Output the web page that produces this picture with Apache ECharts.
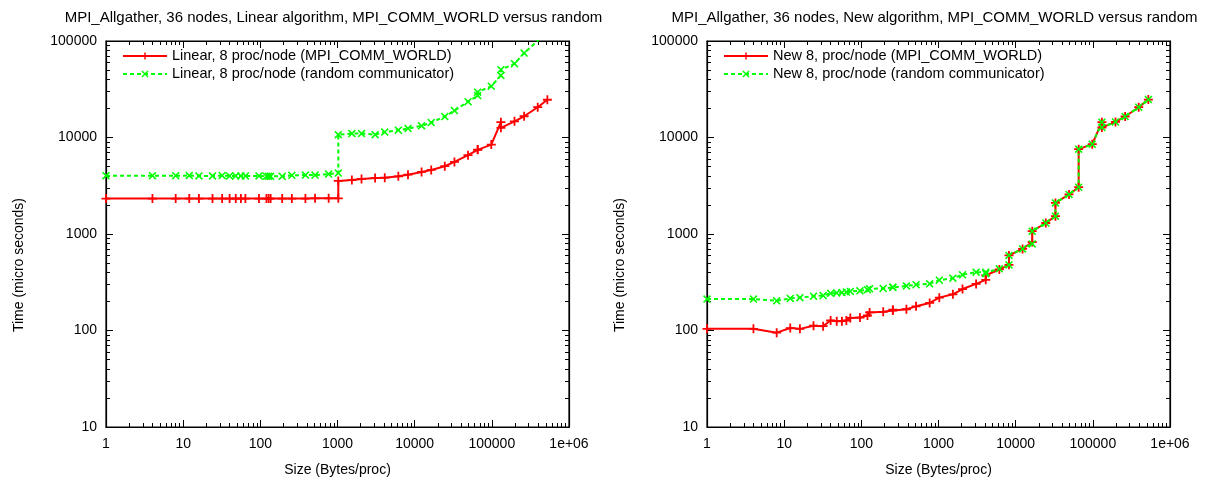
<!DOCTYPE html>
<html>
<head>
<meta charset="utf-8">
<script src="https://cdn.jsdelivr.net/npm/echarts@6/dist/echarts.min.js"></script>
<style>
  html, body { margin: 0; padding: 0; background: #fff; }
  #chart { width: 1205px; height: 480px; }
</style>
</head>
<body>
<div id="chart"></div>
<script>
// message sizes (bytes/proc), duplicates = two measurements at one size
const linSizes = [1, 4, 8, 12, 16, 24, 32, 40, 48, 56, 64, 96, 120, 128, 136, 192, 256, 384, 512, 768,
  1024, 1024, 1536, 2048, 3072, 4096, 6144, 8192, 12288, 16384, 24576, 32768, 49152, 65536, 65536,
  98304, 131072, 131072, 196608, 262144, 393216, 524288];
const linWorld = [2330, 2330, 2330, 2330, 2330, 2330, 2330, 2330, 2330, 2330, 2330, 2330, 2330, 2330, 2330, 2330, 2330, 2330, 2340, 2340,
  2340, 3550, 3620, 3720, 3800, 3830, 3960, 4120, 4400, 4610, 5040, 5580, 6560, 7450, 7500,
  8450, 14400, 12600, 14700, 16600, 20600, 24600];
const linRandom = [4020, 4020, 4020, 4030, 4000, 4000, 4030, 4000, 4000, 4000, 4000, 4000, 3960, 3960, 3960, 3960, 4060, 4080, 4080, 4180,
  4280, 10700, 11000, 11000, 10700, 11400, 11900, 12400, 13200, 14300, 16500, 19000, 23500, 27200, 29500,
  34000, 44000, 50400, 58200, 75000, 101000, 135000];

const newSizes = [1, 4, 8, 12, 16, 24, 32, 40, 48, 56, 64, 72, 96, 120, 128, 192, 256, 256, 384, 512, 768,
  1024, 1536, 2048, 3072, 4096, 4096, 6144, 8192, 8192, 12288, 16384, 16384, 24576, 32768, 32768,
  49152, 65536, 65536, 98304, 131072, 131072, 196608, 262144, 393216, 524288];
const newWorld = [104, 104, 95, 106, 104, 112, 111, 127, 125, 125, 127, 135, 136, 143, 154, 156, 161, 164, 166, 178, 193,
  219, 237, 269, 304, 335, 372, 429, 479, 600, 700, 826, 1070, 1300, 1530, 2100,
  2570, 3060, 7570, 8530, 14400, 12700, 14500, 16500, 20600, 24700];
const newRandom = [212, 212, 203, 215, 219, 227, 230, 243, 245, 247, 250, 254, 258, 265, 270, 273, 280, 281, 290, 298, 305,
  332, 348, 378, 402, 402, 388, 436, 478, 600, 700, 790, 1070, 1300, 1530, 2100,
  2570, 3060, 7570, 8530, 14400, 12700, 14500, 16500, 20600, 24700];

const titles = ['MPI_Allgather, 36 nodes, Linear algorithm, MPI_COMM_WORLD versus random',
  'MPI_Allgather, 36 nodes, New algorithm, MPI_COMM_WORLD versus random'];
const legendNames = [
  ['Linear, 8 proc/node (MPI_COMM_WORLD)', 'Linear, 8 proc/node (random communicator)'],
  ['New 8, proc/node (MPI_COMM_WORLD)', 'New 8, proc/node (random communicator)']
];

const FONT = 'Liberation Sans, Arial, sans-serif';
const PLUS = 'path://M0,4 L10,4 L10,6 L0,6 Z M4,0 L6,0 L6,10 L4,10 Z';
const CROSS = 'path://M1.4,0 L5,3.6 L8.6,0 L10,1.4 L6.4,5 L10,8.6 L8.6,10 L5,6.4 L1.4,10 L0,8.6 L3.6,5 L0,1.4 Z';

const grids = [
  { left: 106, top: 41, width: 463, height: 386 },
  { left: 707, top: 41, width: 463, height: 386 }
];

function minorVals(lo, hi) {
  const out = [];
  for (let d = lo; d < hi; d *= 10) {
    for (let k = 2; k <= 9; k++) out.push(d * k);
  }
  return out;
}

function makeAxes(gi, dir) {
  const isX = dir === 'x';
  const min = isX ? 1 : 10, max = isX ? 1e6 : 1e5;
  const pos = isX ? ['bottom', 'top'] : ['left', 'right'];
  const minors = minorVals(min, max);
  const axes = [];
  pos.forEach((p, pi) => {
    // major ticks (+ labels on the main side)
    axes.push({
      type: 'log', logBase: 10, min: min, max: max, interval: 1, gridIndex: gi, position: p,
      axisLine: { show: true, lineStyle: { color: '#000', width: 1.2 } },
      axisTick: { show: true, inside: true, length: 7, lineStyle: { color: '#000' } },
      axisLabel: {
        show: pi === 0, color: '#000', fontFamily: FONT, fontSize: 14, margin: isX ? 10 : 9,
        formatter: v => (Math.round(v) === 1000000 ? '1e+06' : String(Math.round(v)))
      },
      splitLine: { show: false },
      name: pi === 0 ? (isX ? 'Size (Bytes/proc)' : 'Time (micro seconds)') : '',
      nameLocation: 'middle',
      nameGap: isX ? 36 : 80,
      nameTextStyle: isX
        ? { color: '#000', fontFamily: FONT, fontSize: 14 }
        : { color: '#000', fontFamily: FONT, fontSize: 14, padding: [0, 62, 0, 0] }
    });
    // minor ticks
    axes.push({
      type: 'log', logBase: 10, min: min, max: max, gridIndex: gi, position: p,
      axisLine: { show: false },
      axisTick: { show: true, inside: true, length: 4, customValues: minors, lineStyle: { color: '#000' } },
      axisLabel: { show: false },
      splitLine: { show: false }
    });
  });
  return axes;
}

function pairs(xs, ys) {
  return xs.map((x, i) => [x, ys[i]]);
}

const sets = [[linSizes, linWorld, linRandom], [newSizes, newWorld, newRandom]];
const series = [];
sets.forEach((s, gi) => {
  series.push({
    name: legendNames[gi][0], type: 'line', xAxisIndex: gi * 4, yAxisIndex: gi * 4,
    data: pairs(s[0], s[1]), symbol: PLUS, symbolSize: 9, clip: true,
    itemStyle: { color: '#ff0000' }, lineStyle: { color: '#ff0000', width: 2 },
    emphasis: { disabled: true }, animation: false
  });
  series.push({
    name: legendNames[gi][1], type: 'line', xAxisIndex: gi * 4, yAxisIndex: gi * 4,
    data: pairs(s[0], s[2]), symbol: CROSS, symbolSize: 8, clip: true,
    itemStyle: { color: '#00ff00' }, lineStyle: { color: '#00ff00', width: 2, type: [4, 3] },
    emphasis: { disabled: true }, animation: false
  });
});

const chart = echarts.init(document.getElementById('chart'));
chart.setOption({
  backgroundColor: '#fff',
  animation: false,
  title: titles.map((t, i) => ({
    text: t, left: grids[i].left + grids[i].width / 2 - 9, top: 5, textAlign: 'center',
    textStyle: { color: '#000', fontFamily: FONT, fontSize: 15, fontWeight: 'normal' }
  })),
  legend: legendNames.map((names, i) => ({
    data: names, orient: 'vertical', left: grids[i].left + 11, top: 43,
    itemWidth: 44, itemHeight: 9, itemGap: 2,
    textStyle: { color: '#000', fontFamily: FONT, fontSize: 14.5, lineHeight: 16 },
    selectedMode: false
  })),
  grid: grids.map(g => Object.assign({
    show: true, borderColor: '#000', borderWidth: 1.2, backgroundColor: '#fff',
    containLabel: false, outerBoundsMode: 'none'
  }, g)),
  xAxis: [].concat(makeAxes(0, 'x'), makeAxes(1, 'x')),
  yAxis: [].concat(makeAxes(0, 'y'), makeAxes(1, 'y')),
  series: series
});
</script>
</body>
</html>
